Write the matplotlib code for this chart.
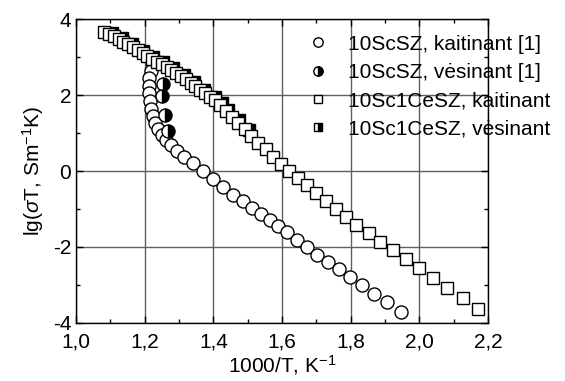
import matplotlib
matplotlib.use('Agg')
import matplotlib.pyplot as plt
from matplotlib.ticker import MultipleLocator, FuncFormatter

plt.rcParams['font.family'] = ['Liberation Sans', 'DejaVu Sans']
plt.rcParams['mathtext.fontset'] = 'custom'
plt.rcParams['mathtext.rm'] = 'Liberation Sans'
plt.rcParams['mathtext.it'] = 'Liberation Sans:italic'

# 10ScSZ, heating [1]
sc_heat_x = [1.224, 1.218, 1.214, 1.213, 1.214, 1.216, 1.219, 1.224, 1.231, 1.240,
             1.251, 1.263, 1.277, 1.295, 1.316, 1.341, 1.369, 1.398, 1.428, 1.457,
             1.486, 1.512, 1.538, 1.564, 1.589, 1.615, 1.643, 1.672, 1.703, 1.735,
             1.767, 1.799, 1.833, 1.869, 1.906, 1.946]
sc_heat_y = [2.85, 2.65, 2.45, 2.25, 2.05, 1.85, 1.65, 1.46, 1.28, 1.11,
             0.95, 0.81, 0.68, 0.53, 0.38, 0.20, 0.00, -0.21, -0.43, -0.62,
             -0.80, -0.97, -1.13, -1.30, -1.46, -1.62, -1.82, -2.01, -2.21, -2.40,
             -2.59, -2.79, -3.00, -3.23, -3.46, -3.72]

# 10ScSZ, cooling [1]
sc_cool_x = [1.254, 1.250, 1.260, 1.268]
sc_cool_y = [2.30, 1.98, 1.48, 1.06]

# 10Sc1CeSZ, heating
ce_heat_x = [1.082, 1.096, 1.110, 1.124, 1.138, 1.152, 1.166, 1.180, 1.194, 1.208,
             1.222, 1.236, 1.250, 1.264, 1.278, 1.292, 1.306, 1.320, 1.334, 1.348,
             1.362, 1.376, 1.390, 1.404, 1.420, 1.437, 1.455, 1.473, 1.492, 1.511,
             1.531, 1.552, 1.574, 1.597, 1.621, 1.646, 1.672, 1.699, 1.727, 1.756,
             1.786, 1.816, 1.852, 1.886, 1.924, 1.960, 1.999, 2.041, 2.082, 2.127,
             2.172]
ce_heat_y = [3.67, 3.62, 3.55, 3.48, 3.41, 3.34, 3.27, 3.19, 3.11, 3.03,
             2.96, 2.89, 2.82, 2.74, 2.67, 2.59, 2.51, 2.42, 2.33, 2.24,
             2.15, 2.06, 1.96, 1.88, 1.74, 1.59, 1.43, 1.27, 1.10, 0.93,
             0.75, 0.57, 0.38, 0.19, 0.01, -0.18, -0.37, -0.57, -0.78, -0.99,
             -1.20, -1.42, -1.64, -1.86, -2.08, -2.32, -2.57, -2.83, -3.08, -3.36,
             -3.63]

# 10Sc1CeSZ, cooling
ce_cool_x = [1.104, 1.134, 1.164, 1.194, 1.224, 1.254, 1.284, 1.314, 1.344, 1.374,
             1.404, 1.424, 1.444, 1.474, 1.504]
ce_cool_y = [3.65, 3.50, 3.35, 3.18, 3.02, 2.87, 2.71, 2.54, 2.34, 2.15,
             1.95, 1.79, 1.62, 1.35, 1.08]

labels = ['10ScSZ, kaitinant [1]', '10ScSZ, vėsinant [1]',
          '10Sc1CeSZ, kaitinant', '10Sc1CeSZ, vėsinant']

fig = plt.figure(figsize=(5.65, 3.81), dpi=100)
ax = fig.add_axes([0.1345, 0.153, 0.7292, 0.796])

ax.plot(sc_heat_x, sc_heat_y, 'o', ms=9.4, mfc='white', mec='black', mew=1.0,
        zorder=3, label=labels[0])
ax.plot(sc_cool_x, sc_cool_y, 'o', ms=9.4, fillstyle='right', mfc='black',
        markerfacecoloralt='white', mec='black', mew=1.0, zorder=4, label=labels[1])
ax.plot(ce_heat_x, ce_heat_y, 's', ms=8.4, mfc='white', mec='black', mew=1.0,
        zorder=5, label=labels[2])
ax.plot(ce_cool_x, ce_cool_y, 's', ms=8.4, fillstyle='right', mfc='black',
        markerfacecoloralt='white', mec='black', mew=1.0, zorder=3, label=labels[3])

ax.set_xlim(1.0, 2.2)
ax.set_ylim(-4, 4)
ax.xaxis.set_major_locator(MultipleLocator(0.2))
ax.xaxis.set_minor_locator(MultipleLocator(0.1))
ax.yaxis.set_major_locator(MultipleLocator(2))
ax.yaxis.set_minor_locator(MultipleLocator(1))
ax.xaxis.set_major_formatter(FuncFormatter(lambda v, p: ('%.1f' % v).replace('.', ',')))
ax.yaxis.set_major_formatter(FuncFormatter(lambda v, p: '%d' % round(v)))

ax.grid(True, which='major', color='#606060', linewidth=1.0, zorder=1)
ax.set_axisbelow(True)
ax.tick_params(which='both', direction='in', top=True, right=True, labelsize=15,
               width=1.0)
ax.tick_params(which='major', length=5)
ax.tick_params(axis='x', which='major', pad=7)
ax.tick_params(which='minor', length=3)
for s in ax.spines.values():
    s.set_linewidth(1.0)

ax.set_xlabel('1000/T, K$^{-1}$', fontsize=15, labelpad=1)
ax.set_ylabel('lg($\\sigma$T, Sm$^{-1}$K)', fontsize=15, labelpad=5)

ax.legend(loc='upper left', bbox_to_anchor=(0.563, 0.95), frameon=False,
          fontsize=15, borderpad=0, borderaxespad=0, handlelength=1.0,
          handletextpad=0.9, labelspacing=0.45, markerscale=0.72)

fig.savefig('out.png', dpi=100)
